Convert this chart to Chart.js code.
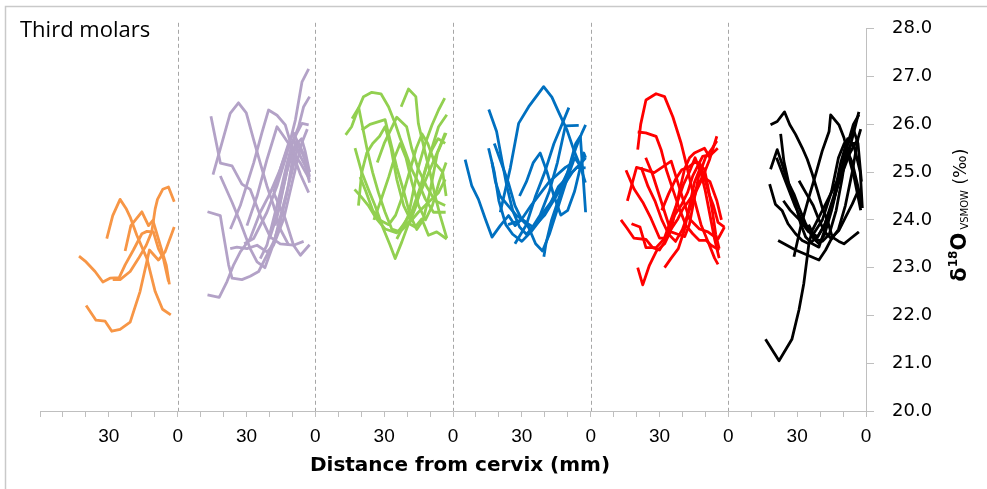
<!DOCTYPE html>
<html>
<head>
<meta charset="utf-8">
<script src="https://cdn.jsdelivr.net/npm/chart.js@4.4.0/dist/chart.umd.min.js"></script>
<style>
  html, body { margin: 0; padding: 0; background: #fff; }
  canvas { display: block; }
</style>
</head>
<body>
<canvas id="chart" width="987" height="489"></canvas>
<script>
// one array per group, each trace = [distance from cervix (mm), d18O VSMOW (permil)]
const orangeTeeth = [
  [[28.3,22.75],[25.1,22.75],[20.7,22.92],[17.1,23.19],[13.7,23.47],[11.3,23.75],[9.8,24.23],[8.8,24.43],[6.5,24.64],[4.0,24.69],[1.5,24.38]],
  [[39.9,22.21],[35.6,21.9],[31.6,21.88],[28.7,21.67],[25.1,21.71],[20.7,21.86],[16.4,22.5],[12.3,23.37],[8.4,23.16],[5.5,23.33],[1.5,23.85]],
  [[30.9,23.61],[28.3,24.09],[25.1,24.43],[22.5,24.24],[20.7,24.06],[17.8,23.68],[13.4,23.19],[9.8,22.5],[6.6,22.13],[3.0,22.01]],
  [[43.0,23.24],[39.9,23.12],[36.0,22.92],[32.6,22.7],[29.5,22.78],[25.5,22.79],[22.9,23.06],[19.3,23.37],[15.6,23.71],[13.4,23.76],[10.6,23.75],[8.4,23.4],[6.2,23.19],[4.0,22.71]],
  [[22.9,23.35],[20.4,23.88],[15.6,24.17],[12.7,23.88],[10.8,23.99],[7.6,23.47],[5.0,23.06],[3.6,22.65]]
];

const purpleTeeth = [
  [[45.5,26.17],[41.4,25.19],[36.3,25.13],[32.0,24.75],[28.4,24.64],[24.0,24.09],[19.6,23.64],[15.3,23.5],[9.5,23.47],[5.1,23.55]],
  [[44.6,24.95],[40.7,25.61],[37.1,26.23],[33.5,26.45],[30.1,26.24],[26.9,25.68],[24.0,25.19],[21.1,24.71],[18.2,24.3],[15.3,23.81],[11.6,23.47]],
  [[37.0,23.81],[32.7,24.3],[26.9,25.19],[23.3,25.82],[20.4,26.3],[16.7,26.19],[13.1,25.99],[9.5,25.4],[6.5,25.19],[2.5,24.85]],
  [[41.4,24.92],[36.3,24.37],[32.7,23.95],[28.4,23.4],[25.4,23.12],[22.0,23.0],[18.2,23.5],[14.0,24.3],[10.2,25.0],[7.3,25.6],[4.4,25.3],[2.5,24.9]],
  [[47.0,24.17],[41.4,24.09],[40.7,23.88],[37.8,23.06],[36.3,22.78],[32.0,22.75],[28.4,22.82],[24.7,22.92],[21.1,23.26],[18.2,23.54],[15.3,23.95],[12.3,24.57],[10.2,25.19],[8.0,25.68]],
  [[47.0,22.43],[41.9,22.38],[38.5,22.71],[35.6,23.06],[32.7,23.33],[28.4,23.61],[24.0,24.16],[19.6,24.57],[15.3,25.06],[11.6,25.61],[9.5,25.82],[6.5,25.5],[2.5,25.0]],
  [[31.0,23.5],[26.9,23.61],[21.1,24.16],[16.7,24.71],[12.3,25.4],[8.7,26.09],[5.8,26.89],[2.9,27.16]],
  [[24.0,23.19],[21.1,23.47],[18.2,24.02],[15.3,24.57],[12.3,25.19],[9.5,25.68],[7.3,25.95],[5.1,26.37],[2.5,26.58]],
  [[17.5,23.88],[14.5,24.57],[11.6,25.19],[10.2,25.61],[8.0,25.82],[5.8,26.02],[2.9,25.99]],
  [[18.2,24.57],[15.3,25.06],[12.3,25.47],[9.5,25.68],[6.5,25.33],[4.4,25.13],[2.5,24.78]],
  [[20.0,23.6],[16.0,24.2],[12.5,25.0],[9.0,25.55],[6.0,25.7],[4.5,25.45],[2.5,25.0]],
  [[18.2,24.57],[13.1,24.02],[9.5,23.47],[6.5,23.26],[2.5,23.48]],
  [[37.1,23.4],[34.2,23.43],[29.8,23.4],[25.4,23.47],[21.1,23.33],[18.2,23.47],[13.8,24.02],[10.0,24.8],[6.0,25.6],[3.5,25.9]],
  [[29.8,23.88],[25.4,24.5],[21.1,25.26],[16.7,25.95],[13.8,25.75],[10.9,25.54],[6.5,24.95],[2.9,24.57]]
];

const greenTeeth = [
  [[46.8,25.78],[44.2,25.95],[41.5,26.3],[39.0,26.58],[35.4,26.67],[31.4,26.64],[28.1,26.37],[25.2,26.02],[23.1,25.72],[20.6,25.4],[18.0,25.06],[15.1,24.78],[12.1,24.44],[8.5,24.16],[3.2,24.16]],
  [[44.0,26.12],[41.1,26.35],[39.3,25.92],[37.4,25.47],[35.0,24.99],[32.5,24.57],[29.6,24.16],[26.7,23.81],[23.1,23.75],[19.4,23.92],[15.1,24.16],[10.7,24.37],[6.3,24.57],[3.4,24.85]],
  [[22.6,26.37],[19.4,26.74],[16.2,26.58],[15.1,26.02],[12.1,25.4],[10.0,24.99],[7.8,24.5],[5.6,24.09],[2.7,23.62]],
  [[24.5,23.6],[21.5,23.88],[19.4,24.1],[17.3,24.6],[15.1,25.1],[12.1,25.6],[9.2,25.98],[6.3,26.3],[3.6,26.55]],
  [[39.8,25.88],[36.2,26.0],[29.6,26.1],[27.5,25.68],[24.5,25.1],[21.5,24.6],[18.7,24.1],[15.8,23.8],[13.0,24.0],[10.0,24.6],[6.8,25.4],[3.0,25.82]],
  [[42.7,25.5],[39.8,25.0],[36.9,24.64],[34.0,24.3],[30.4,23.82],[27.4,23.47],[25.2,23.19],[22.3,23.54],[19.4,23.92],[16.5,24.3],[13.6,24.64],[10.0,25.06],[6.3,25.47],[3.4,25.82]],
  [[42.9,24.64],[39.8,24.47],[36.9,24.3],[33.3,24.02],[29.6,23.81],[24.5,23.73],[20.2,23.95],[16.5,23.85],[13.6,24.02],[10.7,23.68],[7.1,23.75],[2.7,23.6]],
  [[41.2,24.3],[39.8,24.99],[37.6,25.4],[35.0,25.6],[32.0,25.75],[29.6,25.95],[27.0,25.5],[24.5,24.85],[21.5,24.3],[18.5,24.0],[16.0,24.3],[13.0,24.9],[10.0,25.4],[6.5,25.7],[3.4,25.6]],
  [[33.0,25.2],[30.0,25.6],[27.0,25.9],[24.5,26.15],[20.2,25.95],[18.0,25.5],[15.1,25.06],[11.5,24.7],[7.8,24.4],[3.4,24.3]],
  [[23.8,23.75],[18.0,24.16],[13.6,24.78],[9.2,25.5],[6.3,25.95],[2.7,26.2]],
  [[34.5,24.0],[31.5,24.4],[28.0,24.9],[25.5,25.3],[23.0,25.6],[20.5,25.3],[18.0,24.8],[15.0,24.3],[12.0,24.0],[9.0,24.3],[6.0,24.8],[3.0,25.2]],
  [[40.5,24.9],[38.0,24.6],[35.0,24.2],[32.0,24.0],[28.0,23.9],[25.0,24.1],[22.0,24.5],[19.0,25.0],[16.0,25.5],[13.5,25.8],[11.0,25.6],[8.0,25.2],[4.5,25.0],[3.0,24.5]]
];

const blueTeeth = [
  [[54.7,25.26],[51.8,24.71],[48.9,24.43],[45.9,24.02],[43.0,23.64],[39.4,23.88],[35.8,24.09],[32.9,23.88],[30.0,24.02],[26.0,24.3],[22.0,24.55],[18.0,24.8],[14.5,24.95],[11.0,25.1],[7.5,25.2]],
  [[39.4,24.16],[35.0,25.09],[31.4,26.02],[27.0,26.37],[20.5,26.79],[16.9,26.57],[14.0,26.26],[10.3,25.88],[7.4,25.47],[4.5,25.12],[2.3,24.78]],
  [[44.4,26.31],[41.0,25.85],[38.5,25.2],[36.5,24.7],[34.0,24.2],[31.0,23.85],[28.0,23.7],[24.0,23.9],[20.0,24.2],[16.0,24.45],[12.0,24.7],[8.0,25.0],[4.0,25.2],[2.2,25.3]],
  [[33.0,23.5],[28.0,23.9],[24.0,24.5],[20.0,25.0],[16.0,25.6],[12.5,26.0],[9.5,26.35]],
  [[20.4,23.23],[19.5,23.5],[17.0,24.0],[13.5,24.5],[10.0,25.0],[6.5,25.5],[4.0,25.8],[2.2,25.99]],
  [[42.0,25.6],[39.0,25.2],[36.0,24.8],[33.0,24.3],[30.0,24.0],[26.0,23.8],[22.0,24.1],[18.0,24.6],[14.5,25.2],[11.0,25.97],[5.2,25.98]],
  [[36.0,23.9],[30.0,24.0],[25.0,23.85],[20.0,24.1],[15.0,24.5],[10.0,25.0],[6.5,25.6],[4.5,25.75],[2.2,24.16]],
  [[44.5,25.5],[42.0,25.0],[40.0,24.4],[37.0,23.9],[34.0,23.7],[30.0,23.55],[26.0,23.75],[22.0,24.0],[18.0,24.3],[14.0,24.7],[10.0,24.9],[6.0,25.1],[2.2,25.09]],
  [[43.0,25.2],[41.5,24.8],[39.5,24.5],[36.0,24.3],[32.5,24.1],[28.0,23.95],[24.0,23.5],[21.0,23.35],[18.0,23.7],[14.0,24.3],[10.0,24.9],[7.0,25.3],[4.0,25.1]],
  [[31.0,24.5],[28.0,24.8],[25.0,25.2],[22.0,25.4],[19.0,25.0],[16.0,24.5],[13.0,24.1],[10.0,24.2],[7.0,24.6],[5.0,25.0],[3.0,25.4],[2.2,25.3]]
];

const redTeeth = [
  [[39.5,25.47],[38.2,26.0],[35.9,26.51],[31.5,26.64],[27.8,26.58],[24.2,26.16],[20.6,25.61],[18.5,25.2],[16.8,24.85],[14.5,24.37],[11.9,23.9],[8.5,23.5],[6.0,23.2],[4.5,23.07]],
  [[39.5,25.84],[36.0,25.82],[31.5,25.75],[29.3,25.47],[27.1,25.06],[24.2,24.64],[21.3,24.23],[18.4,23.88],[15.5,23.71],[12.6,23.57],[9.6,23.57],[7.5,23.47],[3.9,23.37]],
  [[44.6,25.04],[41.0,24.64],[37.3,24.37],[33.7,24.03],[30.0,23.62],[27.8,23.62],[24.9,23.81],[22.0,24.02],[19.8,24.23],[17.7,24.37],[14.8,24.57],[12.6,24.78],[10.4,24.99],[8.2,25.26],[5.0,25.75]],
  [[44.0,24.4],[40.0,25.1],[32.3,24.99],[24.9,25.23],[22.0,24.78],[19.8,24.44],[16.9,24.02],[12.6,23.81],[8.9,23.75],[4.5,23.6],[1.7,23.85]],
  [[46.8,24.0],[44.2,23.83],[41.2,23.62],[35.9,23.59],[33.0,23.42],[30.0,23.37],[27.8,23.54],[23.5,24.09],[20.6,24.3],[17.7,24.58],[15.5,24.92],[13.3,25.13],[11.2,25.33],[7.5,25.37],[4.6,25.5]],
  [[39.5,23.0],[37.3,22.64],[34.4,23.05],[31.3,23.35],[27.8,23.5],[25.3,23.75],[23.5,24.1],[21.3,24.6],[19.1,25.06],[16.9,25.3],[14.8,25.4],[10.4,25.5],[8.0,25.3]],
  [[27.8,23.0],[24.9,23.2],[21.8,23.4],[19.1,23.8],[16.9,24.3],[14.8,24.78],[11.9,25.13],[10.4,25.06],[8.9,24.7],[7.0,24.2],[5.5,23.7],[4.0,23.4]],
  [[42.2,23.92],[38.5,23.85],[37.3,23.65],[35.9,23.42],[31.5,23.42],[28.0,23.6],[25.0,24.0],[22.0,24.4],[19.5,24.75],[17.0,25.0],[14.5,25.3],[12.0,25.0],[10.0,24.6],[8.0,24.1],[6.0,23.6],[4.0,23.2]],
  [[29.0,24.2],[26.0,24.55],[23.0,24.85],[20.3,25.05],[17.5,25.1],[14.8,25.2],[12.5,25.2],[10.5,24.9],[8.5,24.55],[6.5,24.3],[4.5,23.95],[1.7,23.85]],
  [[36.0,25.3],[33.0,24.95],[30.0,24.5],[27.0,24.05],[25.0,23.75],[22.0,23.7],[19.0,23.65],[17.0,23.9],[15.0,24.4],[13.0,24.9],[10.0,25.3],[7.0,25.5],[5.0,25.65]],
  [[38.0,25.1],[35.0,24.7],[32.0,24.4],[29.0,24.0],[26.0,23.7],[23.0,23.55],[20.0,23.8],[17.0,24.2],[14.0,24.6],[11.0,24.9],[8.0,24.8],[5.0,24.4],[3.0,24.0]]
];

const blackTeeth = [
  [[41.6,25.99],[38.7,26.06],[35.5,26.26],[33.2,25.99],[30.7,25.79],[27.8,25.51],[25.6,25.27],[23.4,24.96],[21.2,24.61],[19.1,24.26],[16.8,23.99],[14.7,23.64],[11.8,23.55],[9.6,23.5],[7.0,23.6],[3.1,23.75]],
  [[37.2,25.8],[35.8,25.23],[33.6,24.75],[30.7,24.33],[28.5,23.92],[26.3,23.64],[23.4,23.5],[20.5,23.43],[17.6,23.85],[14.7,24.3],[11.5,24.9],[8.5,25.5],[5.5,26.0],[3.1,26.2]],
  [[41.6,25.06],[38.7,25.47],[36.5,25.16],[34.3,24.82],[31.4,24.54],[29.2,24.26],[26.3,23.92],[23.4,23.64],[20.5,23.5],[18.0,23.7],[15.0,24.2],[12.0,24.8],[9.0,25.3],[6.5,25.6],[4.0,25.6]],
  [[42.0,24.75],[39.5,24.33],[36.5,24.19],[34.0,23.92],[30.7,23.71],[27.8,23.57],[24.9,23.5],[21.2,23.64],[18.0,23.9],[15.0,24.3],[11.0,24.9],[7.0,25.4],[3.5,25.7]],
  [[38.3,23.57],[30.7,23.37],[20.5,23.16],[17.6,23.37],[14.7,23.64],[11.8,23.78],[8.9,24.06],[6.0,24.33],[3.5,24.6]],
  [[43.8,21.5],[37.9,21.05],[32.3,21.5],[29.2,22.12],[27.1,22.67],[25.6,23.23],[24.9,23.5],[23.4,23.78],[20.5,24.06],[16.9,24.4],[11.8,24.89],[7.4,25.44],[3.1,26.26]],
  [[29.2,24.82],[26.0,24.55],[23.0,24.3],[20.5,24.0],[18.0,23.75],[15.0,23.6],[12.0,23.8],[9.0,24.3],[6.0,25.0],[3.5,25.7],[2.3,25.9]],
  [[31.4,23.23],[28.5,23.85],[24.9,24.47],[21.9,24.96],[19.1,25.44],[16.1,25.85],[15.4,26.2],[11.8,25.99],[9.6,25.72],[7.4,25.3],[5.2,24.9],[2.3,24.2]],
  [[25.0,23.9],[22.0,23.6],[19.0,23.55],[16.0,23.7],[13.0,24.2],[10.3,24.9],[8.0,25.6],[5.5,25.9],[3.5,25.6],[2.0,24.8]],
  [[36.0,24.4],[33.0,24.2],[29.0,24.0],[25.0,23.75],[21.0,23.65],[18.0,23.9],[14.0,24.5],[11.0,25.2],[8.0,25.7],[5.0,25.5],[2.5,25.0],[1.6,24.25]],
  [[39.0,25.3],[35.0,24.8],[31.0,24.3],[27.0,23.9],[23.0,23.7],[19.0,24.0],[15.0,24.6],[12.0,25.3],[9.5,25.6],[6.0,25.2],[3.0,24.6],[2.0,24.3]]
];

const panels = [orangeTeeth, purpleTeeth, greenTeeth, blueTeeth, redTeeth, blackTeeth];
const panelColors = ['#f79646', '#b3a2c7', '#92d050', '#0070c0', '#ff0000', '#000000'];
const panelWidth = 60;            // mm shown in each panel
const panelTickLabels = ['30', '0'];
const yRange = [20, 28];
const chartLabel = 'Third molars';
const xTitle = 'Distance from cervix (mm)';

const axisGray = '#bfbfbf';

// every trace is placed in its panel, read right-to-left from the cervix (0)
const datasets = [];
panels.forEach((teeth, k) => {
  const zero = panelWidth * (k + 1);
  teeth.forEach((trace) => {
    datasets.push({
      data: trace.map(([d, v]) => ({ x: zero - d, y: v })),
      borderColor: panelColors[k],
      borderWidth: 2.8,
      borderJoinStyle: 'round',
      pointRadius: 0,
      fill: false,
      tension: 0,
    });
  });
});

const decor = {
  id: 'decor',
  beforeDraw(chart) {
    const { ctx, chartArea, scales: { x } } = chart;
    ctx.save();
    // outer frame (left + top edges visible)
    ctx.strokeStyle = '#c9c9c9';
    ctx.lineWidth = 1.5;
    ctx.beginPath();
    ctx.moveTo(5.5, chart.height);
    ctx.lineTo(5.5, 6.5);
    ctx.lineTo(chart.width, 6.5);
    ctx.stroke();

    // dashed panel separators
    ctx.strokeStyle = '#a6a6a6';
    ctx.lineWidth = 1;
    ctx.setLineDash([4, 3]);
    for (let k = 1; k < panels.length; k++) {
      const px = Math.round(x.getPixelForValue(panelWidth * k)) + 0.5;
      ctx.beginPath();
      ctx.moveTo(px, chartArea.top - 6);
      ctx.lineTo(px, chartArea.bottom);
      ctx.stroke();
    }
    ctx.restore();
  },
  afterDraw(chart) {
    const { ctx, chartArea, scales: { y } } = chart;
    ctx.save();
    ctx.fillStyle = '#000';

    ctx.font = '22px "Open Sans", sans-serif';
    ctx.textBaseline = 'alphabetic';
    ctx.textAlign = 'left';
    ctx.fillText(chartLabel, 20, 37);

    ctx.font = 'bold 20px "DejaVu Sans", sans-serif';
    ctx.textAlign = 'center';
    ctx.textBaseline = 'middle';
    ctx.fillText(xTitle, (chartArea.left + chartArea.right) / 2 + 7, 466);

    // rotated y title: δ18O VSMOW (‰)
    const parts = [
      { t: 'δ', f: 'bold 21px "DejaVu Sans", sans-serif', dy: 0 },
      { t: '18', f: 'bold 12px "DejaVu Sans", sans-serif', dy: -9 },
      { t: 'O', f: 'bold 21px "DejaVu Sans", sans-serif', dy: 0 },
      { t: ' VSMOW', f: '10px "DejaVu Sans", sans-serif', dy: 2 },
      { t: ' (‰)', f: '17px "DejaVu Sans", sans-serif', dy: 0 },
    ];
    let total = 0;
    parts.forEach((p) => { ctx.font = p.f; p.w = ctx.measureText(p.t).width; total += p.w; });
    const cy = y.getPixelForValue(24.1);
    ctx.translate(966, cy);
    ctx.rotate(-Math.PI / 2);
    ctx.textAlign = 'left';
    ctx.textBaseline = 'alphabetic';
    let cx = -total / 2;
    parts.forEach((p) => {
      ctx.font = p.f;
      ctx.fillText(p.t, cx, p.dy);
      cx += p.w;
    });
    ctx.restore();
  },
};

new Chart(document.getElementById('chart'), {
  type: 'line',
  data: { datasets },
  options: {
    responsive: false,
    animation: false,
    devicePixelRatio: 1,
    layout: { padding: { left: 40, top: 24, right: 0, bottom: 0 } },
    plugins: {
      legend: { display: false },
      tooltip: { enabled: false },
    },
    scales: {
      x: {
        type: 'linear',
        min: 0,
        max: panelWidth * panels.length,
        afterFit: (scale) => { scale.height = 78; },
        grid: {
          drawOnChartArea: false,
          tickLength: 6,
          tickColor: axisGray,
        },
        border: { color: axisGray, width: 1 },
        ticks: {
          stepSize: 10,
          autoSkip: false,
          maxRotation: 0,
          padding: 8,
          color: '#000',
          font: { family: '"Liberation Sans Narrow", "Liberation Sans", sans-serif', size: 19 },
          callback: (value) => {
            const r = value % panelWidth;
            if (r === panelWidth / 2) return panelTickLabels[0];
            if (r === 0 && value > 0) return panelTickLabels[1];
            return '';
          },
        },
      },
      y: {
        position: 'right',
        min: yRange[0],
        max: yRange[1],
        afterFit: (scale) => { scale.width = 121; },
        grid: {
          drawOnChartArea: false,
          tickLength: 8,
          tickColor: axisGray,
        },
        border: { color: axisGray, width: 1 },
        ticks: {
          stepSize: 0.5,
          padding: 18,
          color: '#000',
          font: { family: '"DejaVu Sans", sans-serif', size: 18 },
          callback: (value) => (Number.isInteger(value) ? value.toFixed(1) : ''),
        },
      },
    },
  },
  plugins: [decor],
});
</script>
</body>
</html>
